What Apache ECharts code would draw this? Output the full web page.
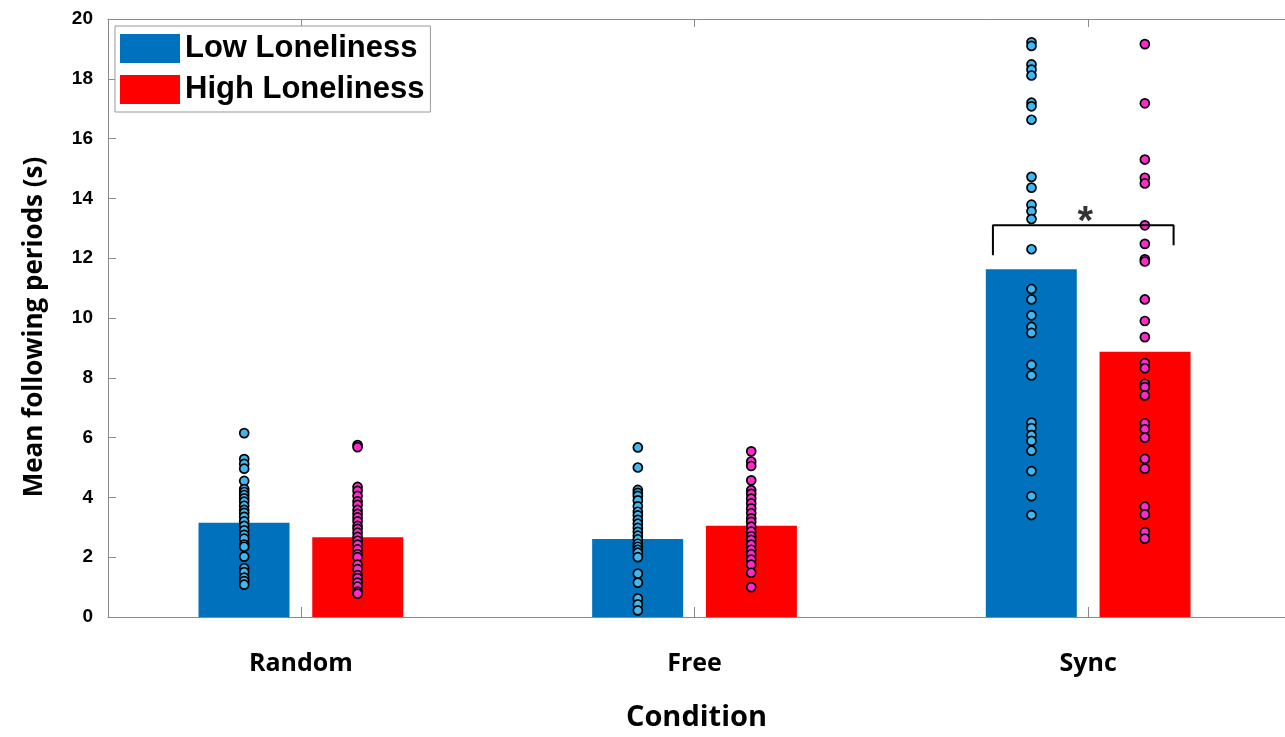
<!DOCTYPE html>
<html>
<head>
<meta charset="utf-8">
<title>Mean following periods by condition</title>
<script src="https://cdn.jsdelivr.net/npm/echarts@6/dist/echarts.min.js"></script>
<style>
  html, body { margin: 0; padding: 0; background: #ffffff; overflow: hidden; }
  #chart { width: 1285px; height: 737px; }
</style>
</head>
<body>
<div id="chart"></div>
<script>
// Conditions on the x axis
const categories = ['Random', 'Free', 'Sync'];
const seriesNames = ['Low Loneliness', 'High Loneliness'];

// Group means (bar heights), seconds
const lowMeans = [3.15, 2.61, 11.63];
const highMeans = [2.67, 3.05, 8.87];

// Individual participants, low loneliness group
const lowRandom = [6.15, 5.28, 5.12, 4.96, 4.55, 4.28, 4.18, 4.08, 3.97, 3.86, 3.72, 3.58, 3.48, 3.35,
  3.2, 3.05, 2.9, 2.75, 2.62, 2.42, 2.35, 2.02, 1.63, 1.5, 1.32, 1.2, 1.08];
const lowFree = [5.67, 5.0, 4.25, 4.15, 4.05, 3.9, 3.7, 3.52, 3.4, 3.25, 3.12, 2.98, 2.85, 2.72,
  2.6, 2.45, 2.35, 2.25, 2.15, 2.0, 1.45, 1.15, 0.62, 0.42, 0.22];
const lowSync = [19.22, 19.1, 18.48, 18.31, 18.11, 17.2, 17.08, 16.63, 14.72, 14.36, 13.79, 13.57,
  13.31, 12.3, 10.97, 10.62, 10.09, 9.7, 9.5, 8.43, 8.08, 6.5, 6.32, 6.08, 5.89, 5.56, 4.88, 4.04, 3.41];

// Individual participants, high loneliness group
const highRandom = [5.75, 5.68, 4.35, 4.22, 4.05, 3.87, 3.75, 3.58, 3.45, 3.33, 3.2, 3.05, 2.95, 2.82,
  2.68, 2.55, 2.42, 2.26, 2.1, 2.0, 1.75, 1.6, 1.4, 1.3, 1.15, 1.02, 0.85, 0.78];
const highFree = [5.54, 5.2, 5.05, 4.57, 4.24, 4.12, 3.96, 3.8, 3.63, 3.47, 3.3, 3.18, 3.02, 2.86,
  2.7, 2.58, 2.42, 2.25, 2.1, 1.92, 1.75, 1.48, 1.0];
const highSync = [19.16, 17.18, 15.3, 14.69, 14.5, 13.1, 12.48, 11.96, 11.89, 10.62, 9.9, 9.36,
  8.49, 8.32, 7.8, 7.69, 7.41, 6.48, 6.28, 6.0, 5.29, 4.96, 3.69, 3.43, 2.84, 2.62];

// Significance bracket between the two Sync groups
const bracketX = [2.758, 3.217];
const bracketY = [12.1, 13.1, 12.43];

const yTicks = [0, 2, 4, 6, 8, 10, 12, 14, 16, 18, 20];

const BLUE = '#0072BD';
const RED = '#FF0000';
const DOT_BLUE = '#3FB7F0';
const DOT_PINK = '#FF2ACB';
const AXIS_GREY = '#8a8a8a';
const FONT = '"Liberation Sans", Arial, sans-serif';
const LABEL_FONT = '"Open Sans", sans-serif';
const DOT_OFFSET = 0.144;   // horizontal shift of each group's column from the condition centre

const lowDots = [lowRandom, lowFree, lowSync];
const highDots = [highRandom, highFree, highSync];

function dotData(groups, sign) {
  const out = [];
  groups.forEach((vals, i) => {
    vals.forEach(v => out.push([i + 1 + sign * DOT_OFFSET, v]));
  });
  return out;
}

const chart = echarts.init(document.getElementById('chart'), null, {
  renderer: 'canvas', width: 1285, height: 737
});

const tickPositions = categories.map((c, i) => i + 1);

chart.setOption({
  animation: false,
  backgroundColor: '#ffffff',
  // plot box runs past the right edge of the canvas
  grid: { left: 108, top: 19, width: 1184, height: 604, containLabel: false },
  legend: {
    data: seriesNames,
    orient: 'vertical',
    left: 115,
    top: 26,
    itemWidth: 60,
    itemHeight: 29,
    itemGap: 10,
    icon: 'rect',
    padding: [7, 6, 7, 5],
    backgroundColor: '#ffffff',
    borderColor: '#999999',
    borderWidth: 1,
    textStyle: { fontFamily: FONT, fontWeight: 'bold', fontSize: 31, color: '#000' }
  },
  xAxis: [
    {
      type: 'value',
      min: 0.51,
      max: 3.5,
      name: 'Condition',
      nameLocation: 'middle',
      nameGap: 86,
      nameTextStyle: { fontFamily: LABEL_FONT, fontWeight: 'bold', fontSize: 29, color: '#000' },
      axisLine: { show: true, lineStyle: { color: AXIS_GREY, width: 1 } },
      axisTick: { show: true, inside: true, length: 10, customValues: tickPositions,
        lineStyle: { color: AXIS_GREY } },
      axisLabel: {
        customValues: tickPositions,
        formatter: v => categories[Math.round(v) - 1] || '',
        margin: 34,
        fontFamily: LABEL_FONT, fontWeight: 'bold', fontSize: 25, color: '#000'
      },
      splitLine: { show: false }
    },
    {
      type: 'value',
      position: 'top',
      min: 0.51,
      max: 3.5,
      axisLine: { show: true, lineStyle: { color: AXIS_GREY, width: 1 } },
      axisTick: { show: true, inside: true, length: 8, customValues: tickPositions,
        lineStyle: { color: AXIS_GREY } },
      axisLabel: { show: false },
      splitLine: { show: false }
    }
  ],
  yAxis: {
    type: 'value',
    min: 0,
    max: 20,
    interval: 2,
    name: 'Mean following periods (s)',
    nameLocation: 'middle',
    nameGap: 60,
    nameTextStyle: { fontFamily: LABEL_FONT, fontWeight: 'bold', fontSize: 26, color: '#000',
      padding: [0, 18, 0, 0] },
    axisLine: { show: true, lineStyle: { color: AXIS_GREY, width: 1 } },
    axisTick: { show: true, inside: true, length: 8, lineStyle: { color: AXIS_GREY } },
    axisLabel: {
      customValues: yTicks,
      margin: 15,
      fontFamily: FONT, fontWeight: 'bold', fontSize: 19, color: '#000'
    },
    splitLine: { show: false }
  },
  series: [
    {
      name: seriesNames[0],
      type: 'bar',
      barWidth: 91,
      barGap: '25%',
      itemStyle: { color: BLUE },
      data: lowMeans.map((v, i) => [i + 1, v]),
      z: 2
    },
    {
      name: seriesNames[1],
      type: 'bar',
      barWidth: 91,
      barGap: '25%',
      itemStyle: { color: RED },
      data: highMeans.map((v, i) => [i + 1, v]),
      z: 2
    },
    {
      name: 'low-points',
      type: 'scatter',
      symbol: 'circle',
      symbolSize: 9,
      itemStyle: { color: DOT_BLUE, borderColor: '#000', borderWidth: 1.7, opacity: 1 },
      data: dotData(lowDots, -1),
      z: 4
    },
    {
      name: 'high-points',
      type: 'scatter',
      symbol: 'circle',
      symbolSize: 9,
      itemStyle: { color: DOT_PINK, borderColor: '#000', borderWidth: 1.7, opacity: 1 },
      data: dotData(highDots, 1),
      z: 4
    },
    {
      name: 'bracket',
      type: 'line',
      symbol: 'none',
      lineStyle: { color: '#000', width: 2 },
      data: [
        [bracketX[0], bracketY[0]],
        [bracketX[0], bracketY[1]],
        [bracketX[1], bracketY[1]],
        [bracketX[1], bracketY[2]]
      ],
      z: 5
    },
    {
      name: 'significance',
      type: 'scatter',
      symbol: 'circle',
      symbolSize: 2,
      itemStyle: { color: 'rgba(0,0,0,0)' },
      label: {
        show: true,
        position: 'inside',
        offset: [0, -2],
        formatter: '*',
        fontFamily: FONT, fontWeight: 'bold', fontSize: 40, color: '#000'
      },
      data: [[(bracketX[0] + bracketX[1]) / 2 + 0.005, bracketY[1]]],
      z: 6
    }
  ]
});
</script>
</body>
</html>
